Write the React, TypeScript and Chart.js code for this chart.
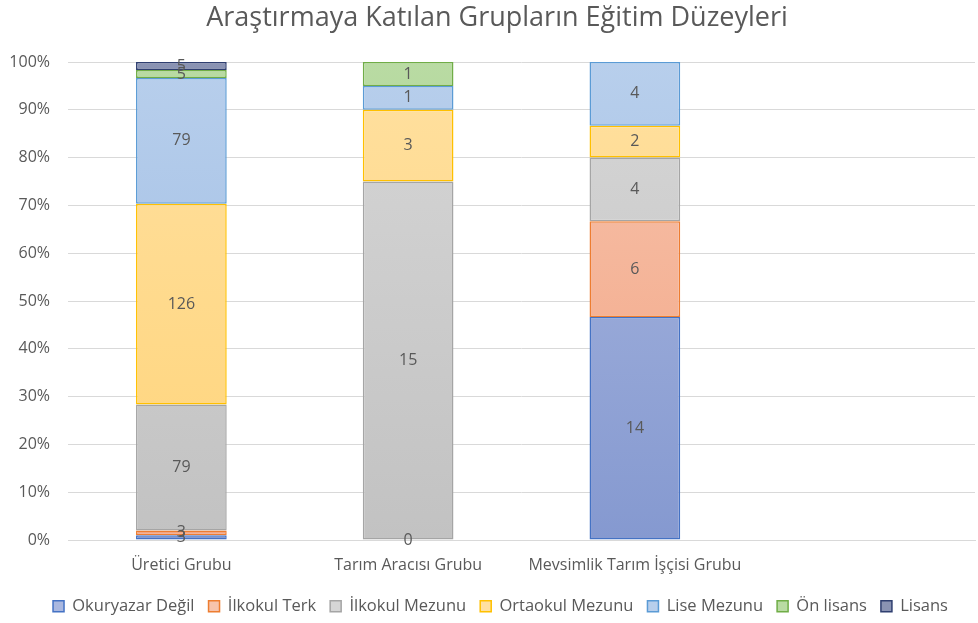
import React, { useEffect, useRef } from "react";
import { Chart, registerables } from "chart.js";

Chart.register(...registerables);

const titleText = "Araştırmaya Katılan Grupların Eğitim Düzeyleri";
const categories = ["Üretici Grubu", "Tarım Aracısı Grubu", "Mevsimlik Tarım İşçisi Grubu", ""];
const seriesNames = ["Okuryazar Değil", "İlkokul Terk", "İlkokul Mezunu", "Ortaokul Mezunu", "Lise Mezunu", "Ön lisans", "Lisans"];
const okuryazarDegil = [3, 0, 14, null];
const ilkokulTerk = [3, null, 6, null];
const ilkokulMezunu = [79, 15, 4, null];
const ortaokulMezunu = [126, 3, 2, null];
const liseMezunu = [79, 1, 4, null];
const onLisans = [5, 1, null, null];
const lisans = [5, null, null, null];
const yTicks = [0, 10, 20, 30, 40, 50, 60, 70, 80, 90, 100];

const counts = [okuryazarDegil, ilkokulTerk, ilkokulMezunu, ortaokulMezunu, liseMezunu, onLisans, lisans];
const topColors = ["#AAB8E0", "#F7C3AC", "#D6D6D6", "#FFE0A0", "#B8CFEC", "#B9DBA3", "#8A93B3"];
const bottomColors = ["#8599D0", "#F2A483", "#C2C2C2", "#FFD479", "#98B8E2", "#9CCC80", "#6A7599"];
const borderColors = ["#4472C4", "#ED7D31", "#A5A5A5", "#FFC000", "#5B9BD5", "#70AD47", "#2F3F70"];

const FONT = "'Open Sans', 'Noto Sans', sans-serif";
const GREY = "#595959";

const labelPlugin = {
  id: "barValueLabels",
  afterDatasetsDraw(chart: any) {
    const ctx = chart.ctx;
    ctx.save();
    ctx.font = `16px ${FONT}`;
    ctx.fillStyle = GREY;
    ctx.textAlign = "center";
    ctx.textBaseline = "middle";
    chart.data.datasets.forEach((ds: any, di: number) => {
      const meta = chart.getDatasetMeta(di);
      meta.data.forEach((el: any, i: number) => {
        const raw = counts[di][i];
        if (raw === null || raw === undefined) return;
        const y = (el.y + el.base) / 2;
        ctx.fillText(String(raw), el.x, y);
      });
    });
    ctx.restore();
  },
};

const titlePlugin = {
  id: "offsetTitle",
  afterLayout(chart: any) {
    if (chart.legend) {
      chart.legend.left += 13;
      chart.legend.right += 13;
    }
  },
  afterDraw(chart: any) {
    const ctx = chart.ctx;
    ctx.save();
    ctx.font = `27px ${FONT}`;
    ctx.fillStyle = GREY;
    ctx.textAlign = "center";
    ctx.textBaseline = "middle";
    ctx.fillText(titleText, 497, 18);
    ctx.restore();
  },
};

export default function App() {
  const ref = useRef<HTMLCanvasElement | null>(null);
  useEffect(() => {
    document.body.style.margin = "0";
    const totals = categories.map((_, i) =>
      counts.reduce((s, arr) => s + (arr[i] ?? 0), 0)
    );
    const datasets = seriesNames.map((name, di) => ({
      label: name,
      data: counts[di].map((v, i) => (v === null || totals[i] === 0 ? null : (v as number) / totals[i] * 100)),
      backgroundColor: (c: any) => {
        const area = c.chart.chartArea;
        if (!area) return topColors[di];
        const g = c.chart.ctx.createLinearGradient(0, area.top, 0, area.bottom);
        g.addColorStop(0, topColors[di]);
        g.addColorStop(1, bottomColors[di]);
        return g;
      },
      borderColor: borderColors[di],
      borderWidth: 1.5,
      borderSkipped: false,
      barPercentage: 0.4,
      categoryPercentage: 1,
    }));
    const chart = new Chart(ref.current!, {
      type: "bar",
      data: { labels: categories, datasets },
      plugins: [labelPlugin, titlePlugin],
      options: {
        responsive: false,
        animation: false,
        layout: { padding: { left: 0, right: 3, top: 62, bottom: 0 } },
        plugins: {
          title: { display: false },
          legend: {
            position: "bottom",
            maxHeight: 39,
            labels: {
              color: GREY,
              font: { family: FONT, size: 16.5 },
              boxWidth: 11,
              boxHeight: 11,
              padding: 14,
              generateLabels: (chart: any) =>
                seriesNames.map((n, i) => ({
                  text: n,
                  fillStyle: topColors[i],
                  strokeStyle: borderColors[i],
                  lineWidth: 1.5,
                  fontColor: GREY,
                  datasetIndex: i,
                  hidden: false,
                })),
            },
          },
          tooltip: { enabled: false },
        },
        scales: {
          x: {
            stacked: true,
            grid: { display: false, drawTicks: false },
            border: { display: true, color: "#D9D9D9", width: 1 },
            afterFit: (axis: any) => {
              axis.height = 44;
            },
            ticks: {
              color: GREY,
              font: { family: FONT, size: 16 },
              padding: 16,
              maxRotation: 0,
              minRotation: 0,
              autoSkip: false,
            },
          },
          y: {
            stacked: true,
            min: 0,
            max: 100,
            afterBuildTicks: (axis: any) => {
              axis.ticks = yTicks.map((v) => ({ value: v }));
            },
            afterFit: (axis: any) => {
              axis.width = 68;
            },
            grid: { color: "#D9D9D9", drawTicks: false },
            border: { display: false },
            ticks: {
              color: GREY,
              font: { family: FONT, size: 16 },
              padding: 18,
              callback: (v: any) => `${v}%`,
            },
          },
        },
      },
    });
    return () => chart.destroy();
  }, []);
  return (
    <div style={{ position: "absolute", left: 0, top: 0, width: 978, height: 623 }}>
      <canvas ref={ref} width={978} height={623} style={{ width: 978, height: 623 }} />
    </div>
  );
}
